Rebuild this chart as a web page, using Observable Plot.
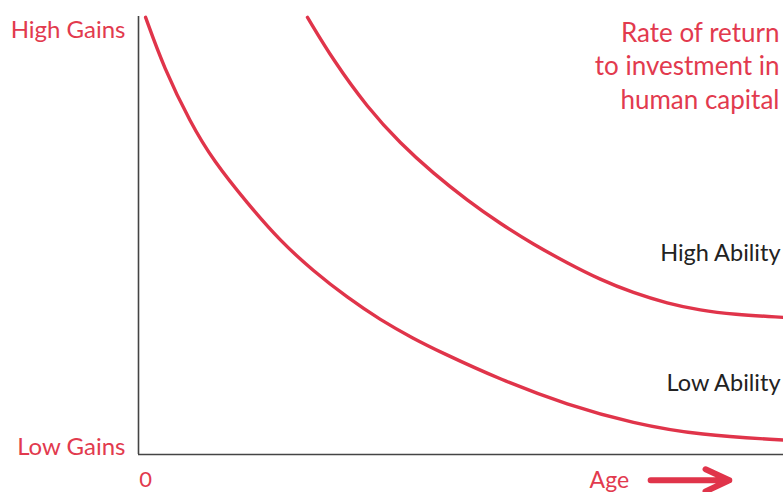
<!DOCTYPE html>
<html>
<head>
<meta charset="utf-8">
<script src="https://cdn.jsdelivr.net/npm/d3@7"></script>
<script src="https://cdn.jsdelivr.net/npm/@observablehq/plot@0.6"></script>
<style>
  html, body { margin: 0; padding: 0; background: #fff; }
  #chart { width: 783px; height: 492px; }
</style>
</head>
<body>
<div id="chart"></div>
<script>
// Age axis (0..100 abstract), rate of return (0..100 abstract)
const lowAge    = [1.1, 3.9, 8.1, 11.6, 16.9, 22.0, 27.1, 32.4, 37.5, 42.6, 46.8, 56.1, 66.5, 76.7, 87.1, 100];
const lowReturn = [99.8, 88.4, 75.6, 67.1, 57.3, 48.7, 41.9, 35.8, 30.7, 26.5, 23.4, 17.1, 11.3, 7.1, 4.4, 3.3];
const highAge    = [26.2, 30.2, 35.5, 40.6, 45.7, 51.0, 56.1, 61.2, 66.5, 71.6, 76.7, 82.0, 87.1, 92.2, 100];
const highReturn = [99.8, 90.0, 79.2, 71.0, 64.2, 58.0, 52.7, 48.0, 43.7, 39.9, 36.9, 34.5, 32.9, 32.0, 31.3];

const yTickValues = [96.8, 1.6];
const yTickLabels = ["High Gains", "Low Gains"];
const seriesLabels = ["High Ability", "Low Ability"];
const seriesLabelY = [45.9, 16.2];
const titleText = "Rate of return\nto investment in\nhuman capital";
const xZeroLabel = "0";
const xAxisLabel = "Age";

const RED = "#e0344a";
const TEXTRED = "#e23a4e";
const FONT = "Lato, 'Open Sans', sans-serif";

const low = lowAge.map((a, i) => ({age: a, ret: lowReturn[i]}));
const high = highAge.map((a, i) => ({age: a, ret: highReturn[i]}));

const chart = Plot.plot({
  width: 783,
  height: 492,
  marginLeft: 138,
  marginRight: 0,
  marginTop: 16,
  marginBottom: 38,
  style: {fontFamily: FONT, background: "#fff", overflow: "visible"},
  x: {domain: [0, 100], axis: null},
  y: {domain: [0, 100], axis: null},
  marks: [
    Plot.ruleX([0], {y1: 0, y2: 100, stroke: "#444", strokeWidth: 1.6}),
    Plot.ruleY([0], {x1: 0, x2: 100, stroke: "#444", strokeWidth: 1.6}),
    Plot.line(low, {x: "age", y: "ret", curve: "basis", stroke: RED, strokeWidth: 3.4}),
    Plot.line(high, {x: "age", y: "ret", curve: "basis", stroke: RED, strokeWidth: 3.4}),
    Plot.text(yTickLabels, {x: 0, y: (d, i) => yTickValues[i], text: d => d, textAnchor: "end", dx: -13, fill: TEXTRED, fontSize: 24}),
    Plot.text(seriesLabels, {x: 100, y: (d, i) => seriesLabelY[i], text: d => d, textAnchor: "end", dx: -3, fill: "#222", fontSize: 23.5}),
    Plot.text([titleText], {frameAnchor: "top-right", dx: -4, dy: 1, text: d => d, fill: TEXTRED, fontSize: 26, lineHeight: 1.3, textAnchor: "end"}),
    Plot.text([xZeroLabel], {x: 1.1, y: -5.9, text: d => d, fill: TEXTRED, fontSize: 22}),
    Plot.text([xAxisLabel], {x: 73.0, y: -5.9, text: d => d, fill: TEXTRED, fontSize: 23}),
    Plot.arrow([{a: 79.4, b: 91.6, y: -5.9}], {x1: "a", x2: "b", y1: "y", y2: "y", stroke: RED, strokeWidth: 6, headLength: 14, headAngle: 50})
  ]
});
document.getElementById("chart").append(chart);
</script>
</body>
</html>
